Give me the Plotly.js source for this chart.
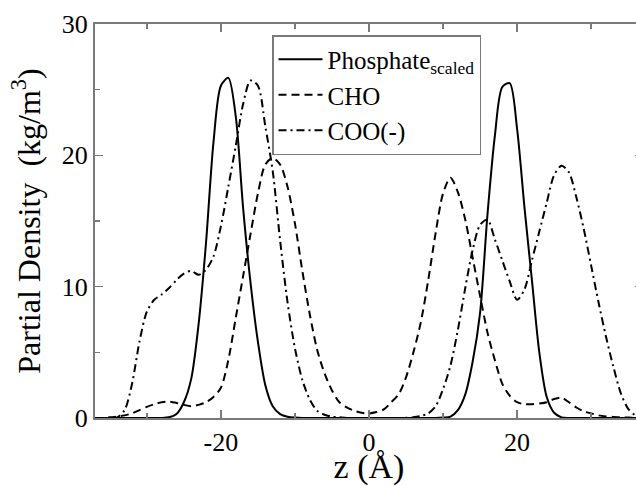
<!DOCTYPE html>
<html>
<head>
<meta charset="utf-8">
<script src="https://cdn.plot.ly/plotly-3.0.1.min.js"></script>
<style>
html, body { margin: 0; padding: 0; overflow: hidden; background: #fff; }
#chart { width: 660px; height: 486px; }
</style>
</head>
<body>
<div id="chart"></div>
<script>
// z positions (Å)
const zValues = [-37,-36,-35,-34,-33,-32,-31,-30,-29,-28,-27,-26,-25,-24,-23,-22,-21,-20,-19,-18,-17,-16,-15,-14,-13,-12,-11,-10,
  -9,-8,-7,-6,-5,-4,-3,-2,-1,0,1,2,3,4,5,6,7,8,9,
  10,11,12,13,14,15,16,17,18,19,20,21,22,23,24,25,26,27,28,29,30,31,32,33,34,35,36,37];

// Phosphate (scaled)
const phosphate = [0,0,0,0,0,0,0,0,0,0,0.05,0.3,1.2,3.0,7.2,13.4,21.0,25.3,25.9,23.0,16.0,10.3,5.8,2.5,0.9,0.3,0.1,0.03,
  0,0,0,0,0,0,0,0,0,0,0,0,0,0,0,0,0,0,0,
  0.03,0.1,0.6,1.8,4.3,8.0,15.5,21.5,25.2,25.5,22.0,16.0,10.5,5.0,1.6,0.4,0.05,0,0,0,0,0,0,0,0,0,0,0];

// CHO
const cho = [0,0,0.05,0.1,0.2,0.35,0.6,0.85,1.05,1.2,1.25,1.15,1.0,0.9,1.0,1.2,1.6,2.3,4.4,7.6,10.8,14.0,17.1,19.3,19.8,19.3,17.6,14.8,
  11.2,7.9,5.2,3.4,2.1,1.2,0.8,0.55,0.4,0.35,0.45,0.65,1.2,1.8,3.1,5.0,7.3,10.5,14.1,
  17.1,18.3,17.2,15.1,12.2,9.3,6.5,4.4,2.6,1.7,1.2,1.05,1.05,1.1,1.2,1.45,1.55,1.2,0.8,0.5,0.35,0.2,0.12,0.08,0.05,0.03,0.02,0];

// COO(-)
const coo = [0,0,0,0.05,0.6,2.6,5.8,8.1,9.0,9.4,9.9,10.5,11.0,11.2,10.9,11.3,12.3,14.6,17.6,20.7,23.9,25.7,25.3,22.2,18.8,13.5,8.8,5.3,
  2.9,1.4,0.55,0.25,0.1,0.05,0,0,0,0,0,0,0,0,0.02,0.05,0.15,0.35,0.9,
  2.2,4.0,6.7,9.9,12.8,14.7,15.1,13.6,12.0,10.4,9.0,9.8,12.0,14.2,16.4,18.5,19.2,18.7,16.8,14.4,11.6,8.8,6.2,3.9,1.9,0.7,0.2,0.05];

const seriesNames = ['Phosphate<sub>scaled</sub>', 'CHO', 'COO(-)'];
const yTickVals = [0, 10, 20, 30];
const xTickVals = [-20, 0, 20];

const serif = 'Liberation Serif';
const axisGray = '#7a7a7a';

const traces = [
  { x: zValues, y: phosphate, name: seriesNames[0], mode: 'lines',
    line: { color: '#000', width: 2, shape: 'spline', smoothing: 0.8 } },
  { x: zValues, y: cho, name: seriesNames[1], mode: 'lines',
    line: { color: '#000', width: 2, dash: '8px,5px', shape: 'spline', smoothing: 0.8 } },
  { x: zValues, y: coo, name: seriesNames[2], mode: 'lines',
    line: { color: '#000', width: 2, dash: '8px,4px,2px,4px', shape: 'spline', smoothing: 0.8 } }
];

const layout = {
  width: 660, height: 486,
  margin: { l: 95, r: 17, t: 24, b: 68 },
  paper_bgcolor: '#fff', plot_bgcolor: '#fff',
  font: { family: serif, color: '#000' },
  showlegend: true,
  legend: {
    x: 0.323, y: 0.972, xanchor: 'left', yanchor: 'top',
    bgcolor: '#fff', bordercolor: axisGray, borderwidth: 1.5,
    font: { family: serif, size: 25, color: '#000' },
    itemwidth: 44,
    tracegroupgap: 0
  },
  xaxis: {
    range: [-37, 37], showgrid: false, zeroline: false,
    showline: true, linecolor: axisGray, linewidth: 2, mirror: 'ticks',
    ticks: 'inside', ticklen: 8, tickwidth: 1.5, tickcolor: axisGray,
    tickvals: xTickVals, ticktext: xTickVals.map(String),
    minor: { dtick: 10, tick0: 0, ticks: 'inside', ticklen: 5, tickwidth: 1.5, tickcolor: axisGray },
    tickfont: { family: serif, size: 26, color: '#000' },
    title: { text: 'z (Å)', font: { family: serif, size: 34, color: '#000' }, standoff: 7 }
  },
  yaxis: {
    range: [0, 30], showgrid: false, zeroline: false,
    showline: true, linecolor: axisGray, linewidth: 2, mirror: 'ticks',
    ticks: 'inside', ticklen: 8, tickwidth: 1.5, tickcolor: axisGray,
    tickvals: yTickVals, ticktext: yTickVals.map(String),
    minor: { dtick: 5, tick0: 0, ticks: 'inside', ticklen: 5, tickwidth: 1.5, tickcolor: axisGray },
    tickfont: { family: serif, size: 26, color: '#000' },
    title: { text: 'Partial Density \u00a0(kg/m<sup>3</sup>)', font: { family: serif, size: 32, color: '#000' }, standoff: 12 }
  }
};

Plotly.newPlot('chart', traces, layout, { displayModeBar: false, staticPlot: true });
</script>
</body>
</html>
